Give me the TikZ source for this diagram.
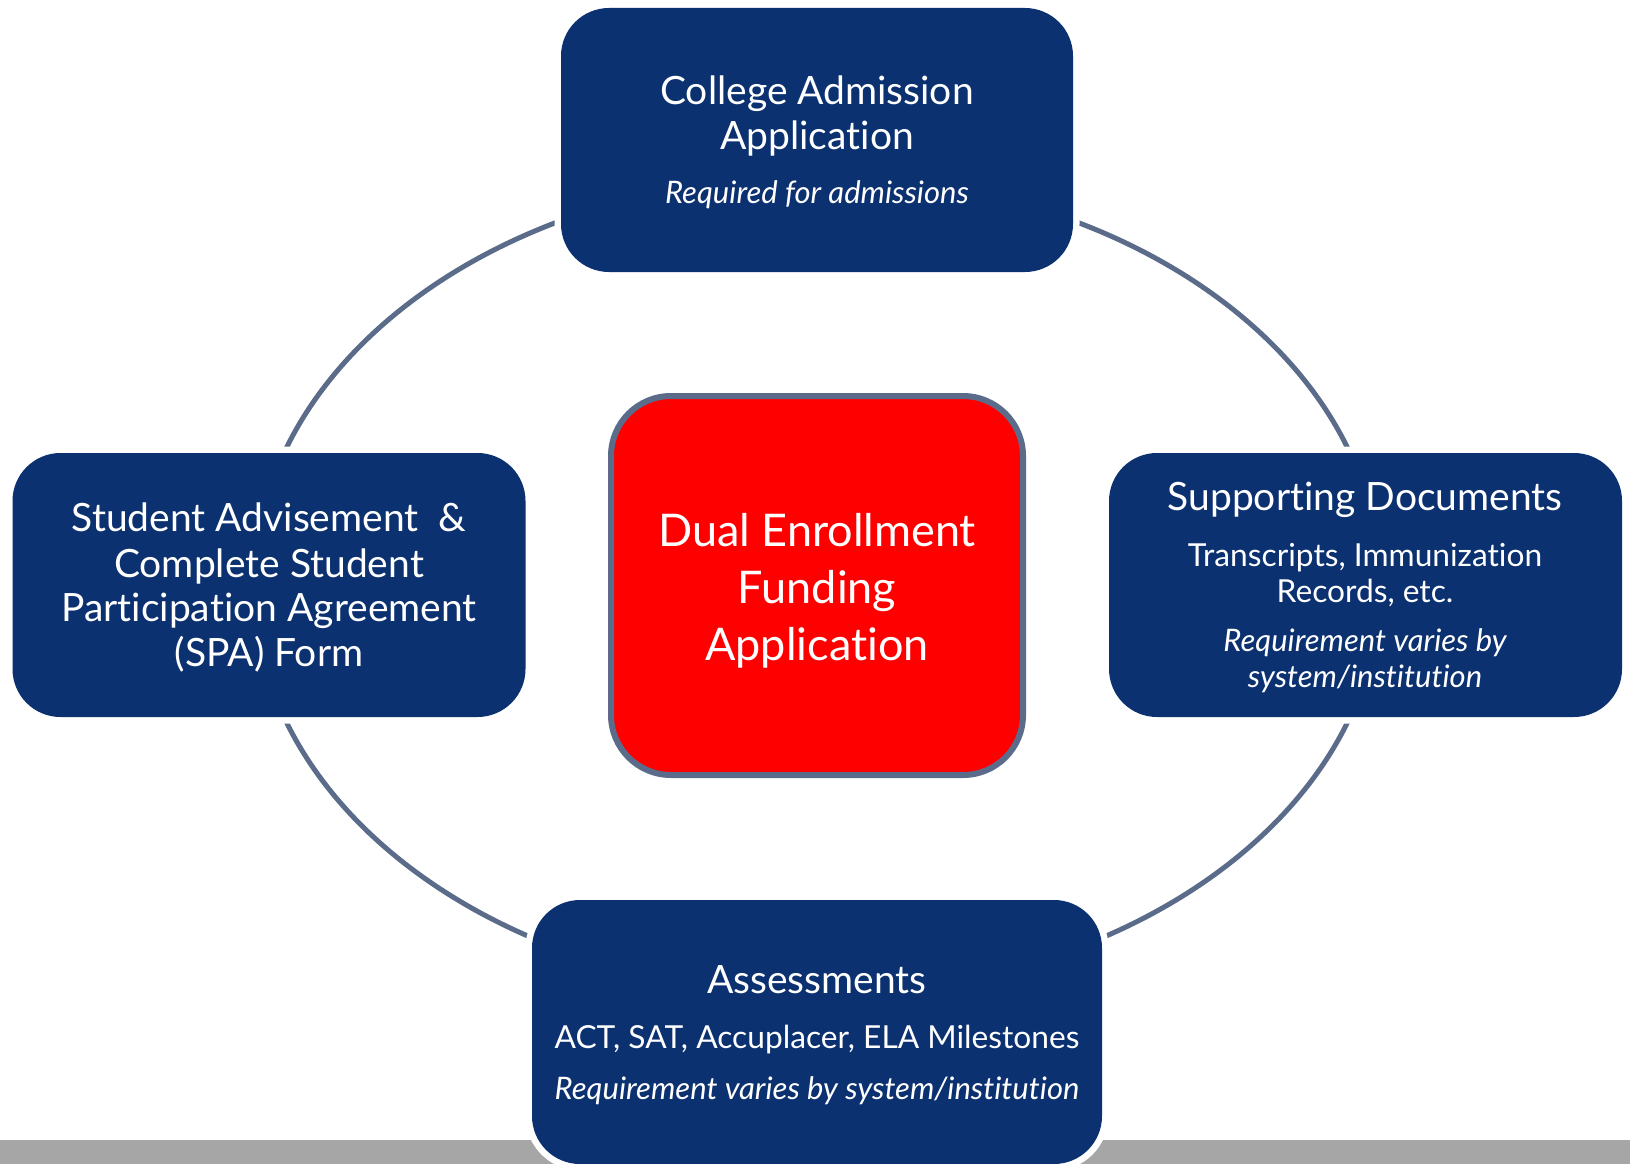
\documentclass[tikz,border=0pt]{standalone}
\usepackage{fontspec}
\setmainfont{Lato}[Ligatures={NoCommon}]
\definecolor{navy}{HTML}{0B3170}
\definecolor{slate}{HTML}{5B6C8A}
\definecolor{barg}{HTML}{A6A6A6}
\definecolor{redfill}{HTML}{FF0000}
\tikzset{
  bluebox/.style={rectangle, rounded corners=48pt, fill=navy, inner sep=0pt,
    preaction={draw=white, line width=13pt}},
  fundbox/.style={rectangle, rounded corners=60pt, fill=redfill, draw=slate,
    line width=6pt, inner sep=0pt},
  ttl/.style={text=white, anchor=base, inner sep=0pt, font=\fontsize{39}{46}\selectfont},
  sub/.style={text=white, anchor=base, inner sep=0pt, font=\fontsize{31.7}{37}\selectfont},
  itl/.style={text=white, anchor=base, inner sep=0pt, font=\fontsize{31}{36}\selectfont\itshape},
  ctr/.style={text=white, anchor=base, inner sep=0pt, font=\fontsize{45}{52}\selectfont},
  ring/.style={draw=slate, line width=5pt},
}
\begin{document}
\begin{tikzpicture}[x=1pt, y=-1pt]
\useasboundingbox (0,0) rectangle (1630,1164);
\fill[white] (0,0) rectangle (1630,1164);
% grey bar at the bottom
\fill[barg] (0,1140) rectangle (1630,1164);
% ring
\draw[ring] (817,585) ellipse [x radius=563pt, y radius=409pt];
% boxes
\node[bluebox, minimum width=512pt, minimum height=264pt] (adm) at (817,140) {};
\node[bluebox, minimum width=513pt, minimum height=264pt] (spa) at (269,585) {};
\node[bluebox, minimum width=513pt, minimum height=264pt] (doc) at (1365.5,585) {};
\node[bluebox, minimum width=570pt, minimum height=264pt] (asm) at (817,1032) {};
\node[fundbox, minimum width=412pt, minimum height=379pt] (fund) at (817,585.5) {};
% texts: top
\node[ttl] (adm1) at (817,104) {College Admission};
\node[ttl] (adm2) at (817,149) {Application};
\node[itl] (adm3) at (817,203) {Required for admissions};
% centre
\node[ctr] (fund1) at (817,546) {Dual Enrollment};
\node[ctr] (fund2) at (817,603) {Funding};
\node[ctr] (fund3) at (817,660) {Application};
% left
\node[ttl] (spa1) at (269,531) {Student Advisement\ \ \&};
\node[ttl] (spa2) at (269,577) {Complete Student};
\node[ttl] (spa3) at (269,621) {Participation Agreement};
\node[ttl] (spa4) at (269,666) {(SPA) Form};
% right
\node[ttl] (doc1) at (1365,510) {Supporting Documents};
\node[sub] (doc2) at (1365,566) {Transcripts, Immunization};
\node[sub] (doc3) at (1365,602) {Records, etc.};
\node[itl] (doc4) at (1365,651) {Requirement varies by};
\node[itl] (doc5) at (1365,687) {system/institution};
% bottom
\node[ttl] (asm1) at (817,993) {Assessments};
\node[sub] (asm2) at (817,1048) {ACT, SAT, Accuplacer, ELA Milestones};
\node[itl] (asm3) at (817,1099) {Requirement varies by system/institution};
\end{tikzpicture}
\end{document}
